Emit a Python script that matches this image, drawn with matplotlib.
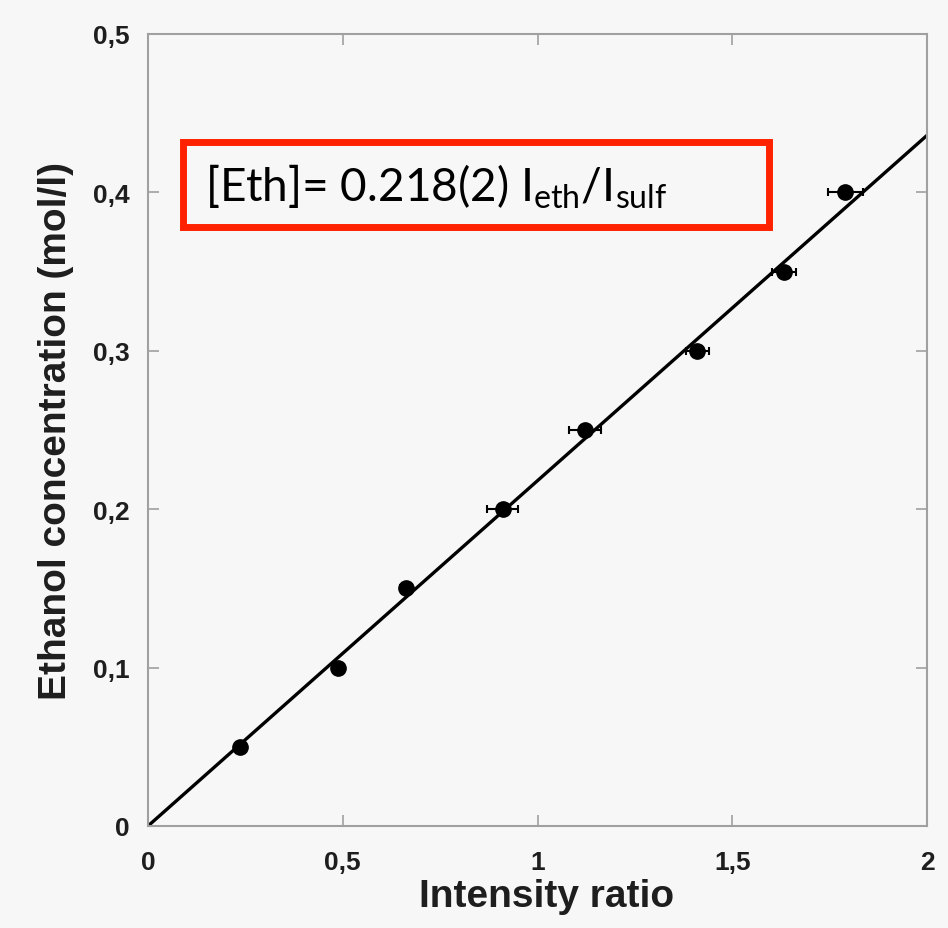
import matplotlib
matplotlib.use("Agg")
import matplotlib.pyplot as plt
import numpy as np
from matplotlib.patches import Rectangle

# Data
intensity_ratio = [0.236, 0.488, 0.662, 0.911, 1.122, 1.410, 1.633, 1.790]
concentration = [0.05, 0.10, 0.15, 0.20, 0.25, 0.30, 0.35, 0.40]
x_err = [0.010, 0.010, 0.015, 0.040, 0.040, 0.030, 0.030, 0.045]
slope = 0.218
fit_x = [0, 2]
x_ticks = [0, 0.5, 1, 1.5, 2]
x_ticklabels = ["0", "0,5", "1", "1,5", "2"]
y_ticks = [0, 0.1, 0.2, 0.3, 0.4, 0.5]
y_ticklabels = ["0", "0,1", "0,2", "0,3", "0,4", "0,5"]

plt.rcParams["mathtext.fontset"] = "custom"
plt.rcParams["mathtext.rm"] = "Lato"

bg = "#f7f7f7"
fig = plt.figure(figsize=(9.48, 9.29), dpi=100, facecolor=bg)
ax = fig.add_axes([148/948, 1-827/929, (927-148)/948, (827-35)/929])
ax.set_facecolor(bg)

fx = np.array(fit_x, dtype=float)
ax.plot(fx, slope*fx, color="black", lw=2.4, zorder=2)
ax.errorbar(intensity_ratio, concentration, xerr=x_err, fmt="o", color="black",
            markersize=11, ecolor="black", elinewidth=1.5, capsize=3, capthick=1.5, zorder=3)

ax.set_xlim(0, 2)
ax.set_ylim(0, 0.5)
ax.set_xticks(x_ticks)
ax.set_xticklabels(x_ticklabels)
ax.set_yticks(y_ticks)
ax.set_yticklabels(y_ticklabels)
for s in ax.spines.values():
    s.set_color("#a0a0a0")
    s.set_linewidth(1.5)
ax.tick_params(direction="in", length=8, width=1.2, color="#a0a0a0",
               top=True, right=True, labelsize=19, labelcolor="#1e1e1e", pad=13)
ax.tick_params(axis="x", pad=17)
for lab in ax.get_xticklabels() + ax.get_yticklabels():
    lab.set_fontweight("bold")
    lab.set_family("Liberation Sans")

ax.set_xlabel("Intensity ratio", fontsize=28, fontweight="bold", family="Liberation Sans",
              color="#1e1e1e")
ax.xaxis.set_label_coords(0.512, -0.066)
ax.set_ylabel("Ethanol concentration (mol/l)", fontsize=28, fontweight="bold",
              family="Liberation Sans", color="#1e1e1e", labelpad=14)

# Annotation box
box = Rectangle((183/948, 1-228/929), (769-183)/948, (228-143)/929, transform=fig.transFigure,
                fill=True, facecolor=bg, edgecolor="#ff2200", lw=5, zorder=5)
fig.add_artist(box)
fig.text(205/948, 1-187/929, r"[Eth]= 0.218(2) I$_{\mathregular{eth}}$/I$_{\mathregular{sulf}}$",
         fontsize=33, family="Lato", va="center", ha="left", color="black", zorder=6)

fig.savefig("out.png", dpi=100, facecolor=bg)
